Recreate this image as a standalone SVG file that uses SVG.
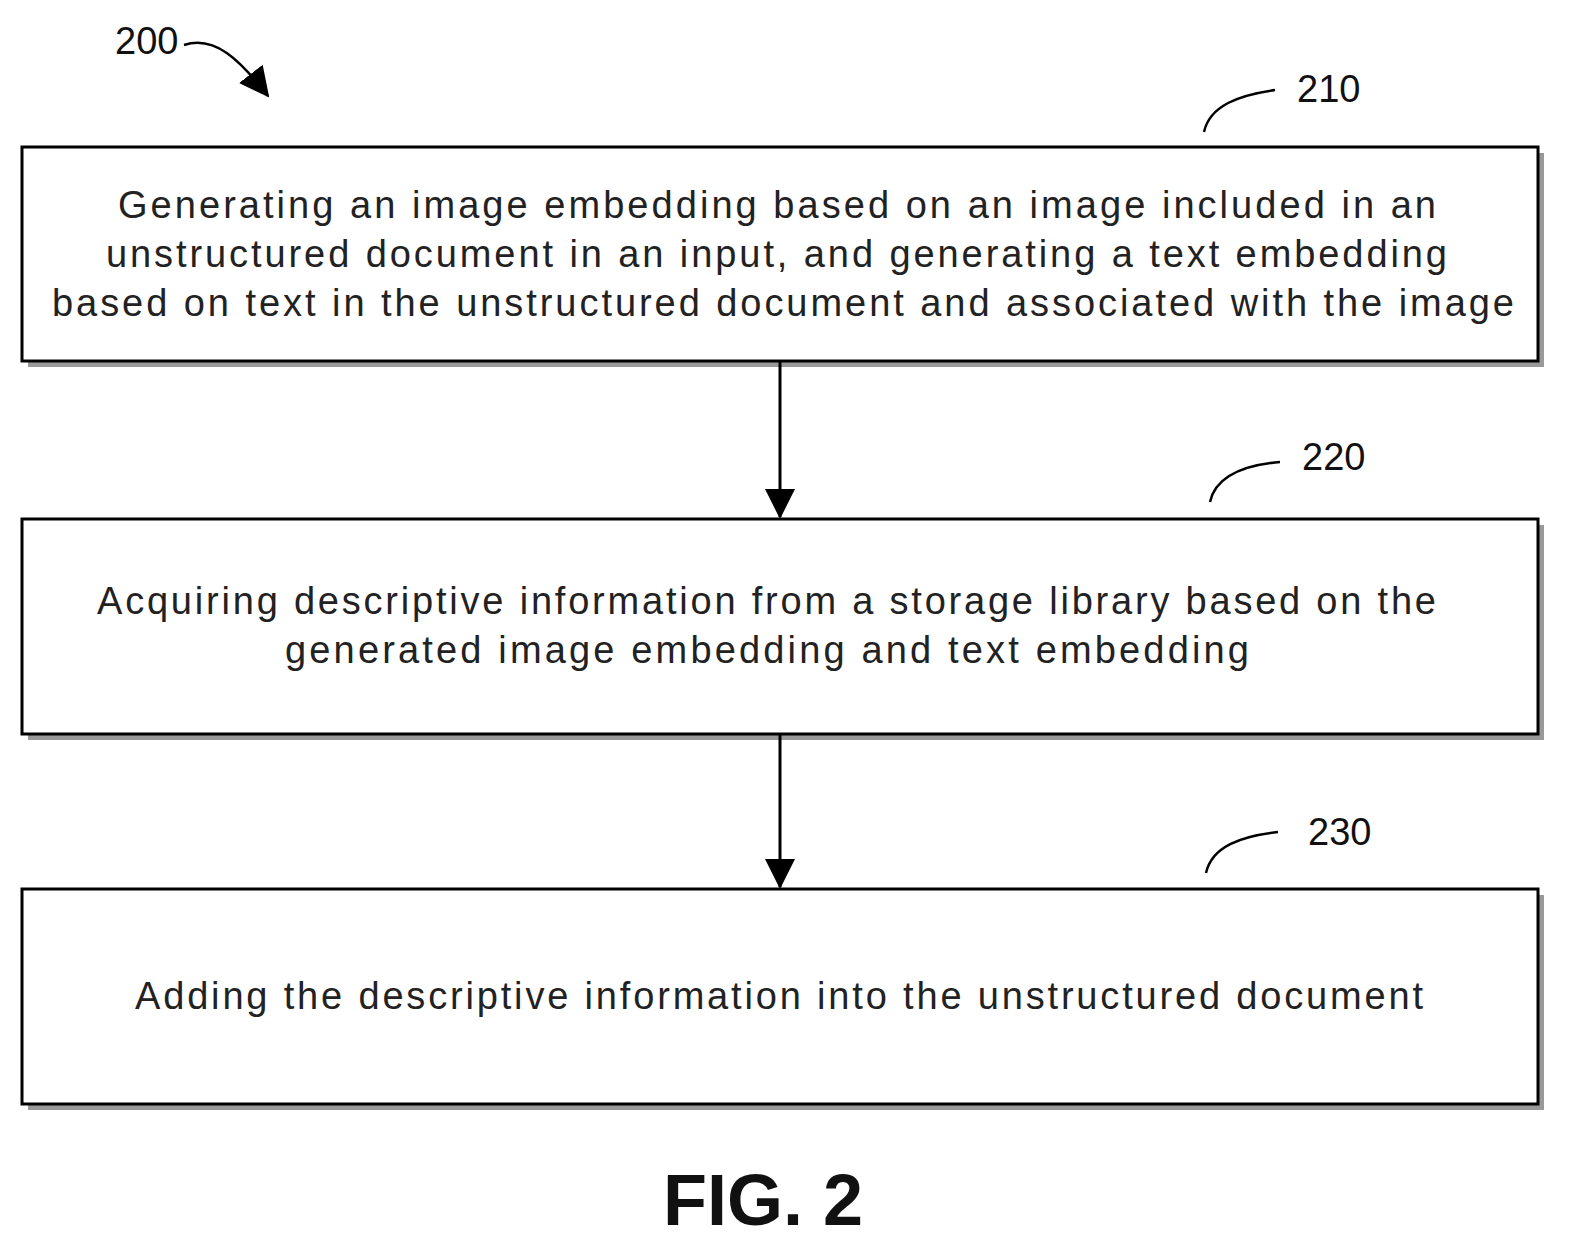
<svg xmlns="http://www.w3.org/2000/svg" width="1572" height="1252" viewBox="0 0 1572 1252">
<style>
.box{fill:#fff;stroke:#000;stroke-width:3}
.sh{fill:#999}
.t{font-family:"Liberation Sans",Arial,sans-serif;font-size:38px;fill:#222}
.n{font-family:"Liberation Sans",Arial,sans-serif;font-size:38px;fill:#111}
.c{fill:none;stroke:#000;stroke-width:2.5}
</style>
<defs>
<marker id="b" viewBox="0 0 30 30" refX="28" refY="15" markerWidth="30" markerHeight="30" orient="auto" markerUnits="userSpaceOnUse"><path d="M0,0L30,15L0,30z" fill="#000"/></marker></defs>
<rect width="1572" height="1252" fill="#fff"/>
<g id="label200"><text class="n" x="115" y="54">200</text><path class="c" d="M184,45 C215,35 240,60 268,96" marker-end="url(#b)"/></g>
<g id="n210"><rect class="sh" x="28" y="153" width="1516" height="214"/><rect class="box" x="22" y="147" width="1516" height="214"/>
<text class="t" x="118" y="218" textLength="1318" lengthAdjust="spacing">Generating an image embedding based on an image included in an</text>
<text class="t" x="106" y="267" textLength="1341" lengthAdjust="spacing">unstructured document in an input, and generating a text embedding</text>
<text class="t" x="52" y="316" textLength="1462" lengthAdjust="spacing">based on text in the unstructured document and associated with the image</text>
<text class="n" x="1297" y="102">210</text><path class="c" d="M1204,132 C1210,105 1240,95 1275,90"/></g>
<g id="n220"><rect class="sh" x="28" y="525" width="1516" height="215"/><rect class="box" x="22" y="519" width="1516" height="215"/>
<text class="t" x="97" y="614" textLength="1339" lengthAdjust="spacing">Acquiring descriptive information from a storage library based on the</text>
<text class="t" x="285" y="663" textLength="964" lengthAdjust="spacing">generated image embedding and text embedding</text>
<text class="n" x="1302" y="470">220</text><path class="c" d="M1210,502 C1216,475 1246,465 1280,462"/></g>
<g id="n230"><rect class="sh" x="28" y="895" width="1516" height="215"/><rect class="box" x="22" y="889" width="1516" height="215"/>
<text class="t" x="135" y="1009" textLength="1288" lengthAdjust="spacing">Adding the descriptive information into the unstructured document</text>
<text class="n" x="1308" y="845">230</text><path class="c" d="M1206,873 C1212,846 1242,836 1278,832"/></g>
<g id="connectors"><line x1="780" y1="361" x2="780" y2="517" stroke="#000" stroke-width="3" marker-end="url(#b)"/>
<line x1="780" y1="734" x2="780" y2="887" stroke="#000" stroke-width="3" marker-end="url(#b)"/></g>
<text x="763" y="1225" font-family="Liberation Sans,Arial,sans-serif" font-size="72" font-weight="bold" text-anchor="middle" fill="#111">FIG. 2</text>
</svg>
